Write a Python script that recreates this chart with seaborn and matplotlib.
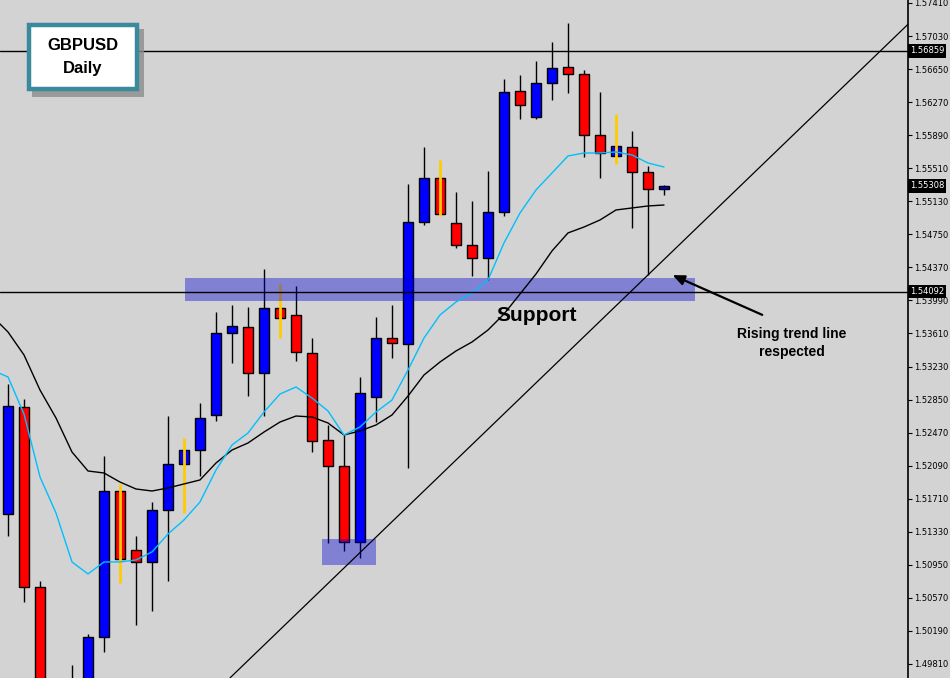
import numpy as np
import pandas as pd
import matplotlib
matplotlib.use("Agg")
import matplotlib.pyplot as plt
from matplotlib.patches import Rectangle
import seaborn as sns

# GBPUSD daily candles (index 0 = leftmost visible bar)
opens = [1.51535, 1.52765, 1.50695, 1.49300, 1.49350, 1.49500, 1.50120, 1.51799,
         1.51121, 1.50983, 1.51581, 1.52109, 1.52270, 1.52673, 1.53616, 1.53685,
         1.53156, 1.53903, 1.53823, 1.53386, 1.52385, 1.52086, 1.51213, 1.52880,
         1.53558, 1.53489, 1.54892, 1.55398, 1.54880, 1.54627, 1.54478, 1.55007,
         1.56398, 1.56099, 1.56490, 1.56674, 1.56594, 1.55892, 1.55651, 1.55754,
         1.55467, 1.55271]
highs = [1.53029, 1.52857, 1.50764, 1.49620, 1.49798, 1.50155, 1.52202, 1.51879,
         1.51282, 1.51673, 1.52661, 1.52408, 1.52811, 1.53857, 1.53938, 1.53915,
         1.54352, 1.54179, 1.54156, 1.53558, 1.52558, 1.52443, 1.53110, 1.53800,
         1.53938, 1.55329, 1.55754, 1.55605, 1.55237, 1.55133, 1.55478, 1.56536,
         1.56582, 1.56743, 1.56962, 1.57180, 1.56640, 1.56387, 1.56134, 1.55938,
         1.55536, 1.55315]
lows = [1.51282, 1.50523, 1.49200, 1.49150, 1.49200, 1.49380, 1.49948, 1.50741,
        1.50258, 1.50419, 1.50764, 1.51546, 1.51971, 1.52604, 1.53271, 1.52891,
        1.52661, 1.53558, 1.53294, 1.52247, 1.51201, 1.51109, 1.51029, 1.52592,
        1.53328, 1.52063, 1.54857, 1.54961, 1.54593, 1.54271, 1.54225, 1.54961,
        1.56076, 1.56076, 1.56295, 1.56375, 1.55639, 1.55398, 1.55559, 1.54823,
        1.54283, 1.55202]
closes = [1.52776, 1.50695, 1.49430, 1.49500, 1.49550, 1.50120, 1.51799, 1.51017,
          1.50983, 1.51581, 1.52109, 1.52270, 1.52638, 1.53616, 1.53696, 1.53156,
          1.53903, 1.53788, 1.53397, 1.52374, 1.52086, 1.51213, 1.52926, 1.53558,
          1.53501, 1.54892, 1.55398, 1.54984, 1.54627, 1.54478, 1.55007, 1.56387,
          1.56237, 1.56490, 1.56663, 1.56594, 1.55892, 1.55685, 1.55766, 1.55467,
          1.55271, 1.55308]
yellow_wick_bars = [7, 11, 17, 27, 38]

# moving averages, first value belongs to the bar just left of the view
ma_fast = [1.53190, 1.53110, 1.52684, 1.51960, 1.51546, 1.50983, 1.50845, 1.50983,
           1.50983, 1.51006, 1.51098, 1.51305, 1.51466, 1.51673, 1.52040, 1.52328,
           1.52466, 1.52707, 1.52914, 1.52995, 1.52868, 1.52719, 1.52443, 1.52535,
           1.52707, 1.52845, 1.53190, 1.53558, 1.53823, 1.53972, 1.54076, 1.54225,
           1.54651, 1.54995, 1.55260, 1.55455, 1.55651, 1.55685, 1.55685, 1.55697,
           1.55662, 1.55570, 1.55524]
ma_slow = [1.53811, 1.53627, 1.53363, 1.52960, 1.52638, 1.52247, 1.52029, 1.52006,
           1.51902, 1.51822, 1.51799, 1.51834, 1.51880, 1.51926, 1.52121, 1.52270,
           1.52351, 1.52477, 1.52592, 1.52661, 1.52650, 1.52581, 1.52443, 1.52489,
           1.52558, 1.52673, 1.52891, 1.53133, 1.53282, 1.53409, 1.53512, 1.53650,
           1.53834, 1.54064, 1.54294, 1.54559, 1.54766, 1.54834, 1.54915, 1.55030,
           1.55053, 1.55076, 1.55087]

price_ticks = [1.57410, 1.57030, 1.56650, 1.56270, 1.55890, 1.55510, 1.55130,
               1.54750, 1.54370, 1.53990, 1.53610, 1.53230, 1.52850, 1.52470,
               1.52090, 1.51710, 1.51330, 1.50950, 1.50570, 1.50190, 1.49810]
level_lines = [1.56859, 1.54092]
last_price = 1.55308
support_zone = [1.53984, 1.54248]
support_bars = [11.06, 42.94]
retest_zone = [1.50948, 1.51247]
retest_bars = [19.63, 23.0]
trend_anchor_bars = [22, 40]
trend_anchor_prices = [1.51091, 1.54283]

df = pd.DataFrame({"open": opens, "high": highs, "low": lows, "close": closes})
df["bar"] = np.arange(len(df))
ma = pd.DataFrame({"bar": np.arange(-1, len(ma_fast) - 1), "fast": ma_fast, "slow": ma_slow})

sns.set_style("white")
plt.rcParams["font.family"] = ["DejaVu Sans"]
plt.rcParams["text.color"] = "black"

BG = "#d3d3d3"
fig = plt.figure(figsize=(9.5, 6.78), dpi=100, facecolor=BG)
ax = fig.add_axes([0, 0, 908 / 950, 1])
ax.set_facecolor(BG)

up = df["close"] >= df["open"]
body_lo = np.minimum(df["open"], df["close"])
body_h = (df["close"] - df["open"]).abs()
cols = np.where(up, "#0000ff", "#ff0000")

black_wicks = df[~df["bar"].isin(yellow_wick_bars)]
gold_wicks = df[df["bar"].isin(yellow_wick_bars)]
ax.vlines(black_wicks["bar"], black_wicks["low"], black_wicks["high"],
          color="black", lw=1.0, zorder=2)
ax.bar(df["bar"], body_h, bottom=body_lo, width=0.57, color=cols,
       edgecolor="black", linewidth=1.0, zorder=3)
ax.vlines(gold_wicks["bar"], gold_wicks["low"], gold_wicks["high"],
          color="#ffcc00", lw=2.0, zorder=4)

sns.lineplot(data=ma, x="bar", y="slow", ax=ax, color="black", lw=1.0, zorder=6)
sns.lineplot(data=ma, x="bar", y="fast", ax=ax, color="#00bfff", lw=1.0, zorder=6)
ax.set_xlabel("")
ax.set_ylabel("")

# zones
ax.add_patch(Rectangle((support_bars[0], support_zone[0]), support_bars[1] - support_bars[0],
                       support_zone[1] - support_zone[0], facecolor=(0, 0, 0.84),
                       alpha=0.39, lw=0, zorder=5))
ax.add_patch(Rectangle((retest_bars[0], retest_zone[0]), retest_bars[1] - retest_bars[0],
                       retest_zone[1] - retest_zone[0], facecolor=(0, 0, 0.84),
                       alpha=0.39, lw=0, zorder=5))

for lv in level_lines:
    ax.axhline(lv, color="black", lw=1.0, zorder=6)
ax.axline((trend_anchor_bars[0], trend_anchor_prices[0]),
          (trend_anchor_bars[1], trend_anchor_prices[1]), color="black", lw=0.9, zorder=6)

ax.set_xlim(-0.5, 56.25)
ax.set_ylim(1.49649, 1.57444)

# right price scale
ax.yaxis.tick_right()
ax.set_yticks(price_ticks)
ax.set_yticklabels(["%.5f" % p for p in price_ticks])
ax.tick_params(axis="y", direction="out", length=3, width=0.8, pad=1.5,
               labelsize=6.0, colors="black")
ax.set_xticks([])
for s in ["top", "left", "bottom"]:
    ax.spines[s].set_visible(False)
ax.spines["right"].set_color("black")
ax.spines["right"].set_linewidth(1.2)

for p in level_lines + [last_price]:
    ax.text(1.002, p, "%.5f" % p, transform=ax.get_yaxis_transform(), color="white",
            fontsize=6.0, va="center", ha="left", zorder=10, clip_on=False,
            bbox=dict(facecolor="black", edgecolor="none", pad=1.6))

# annotations
ax.text(33.06, 1.53811, "Support", fontsize=15, fontweight="bold", color="black",
        family="Liberation Sans", ha="center", va="center", zorder=8)
ax.text(49.0, 1.53500, "Rising trend line\nrespected", fontsize=10, fontweight="bold",
        color="black", family="Liberation Sans", ha="center", va="center",
        linespacing=1.35, zorder=8)
ax.annotate("", xy=(41.375, 1.54294), xytext=(47.3, 1.53811),
            arrowprops=dict(arrowstyle="-|>,head_length=0.7,head_width=0.3",
                            color="black", lw=1.6), zorder=8)

# title box
W, H = 950, 678
fig.patches.append(Rectangle((32 / W, 1 - 97 / H), 112 / W, 68 / H, transform=fig.transFigure,
                             facecolor="#8c8c8c", edgecolor="none", alpha=0.8, zorder=20))
fig.patches.append(Rectangle((29 / W, 1 - 89 / H), 108 / W, 64 / H, transform=fig.transFigure,
                             facecolor="white", edgecolor="#3a8a9e", lw=3.2, zorder=21))
fig.text(83 / W, 1 - 45 / H, "GBPUSD", fontsize=12, fontweight="bold", color="black",
         family="Liberation Sans", ha="center", va="center", zorder=22)
fig.text(83 / W, 1 - 69 / H, "Daily", fontsize=12, fontweight="bold", color="black",
         family="Liberation Sans", ha="center", va="center", zorder=22)

fig.savefig("out.png", dpi=100, facecolor=BG)
